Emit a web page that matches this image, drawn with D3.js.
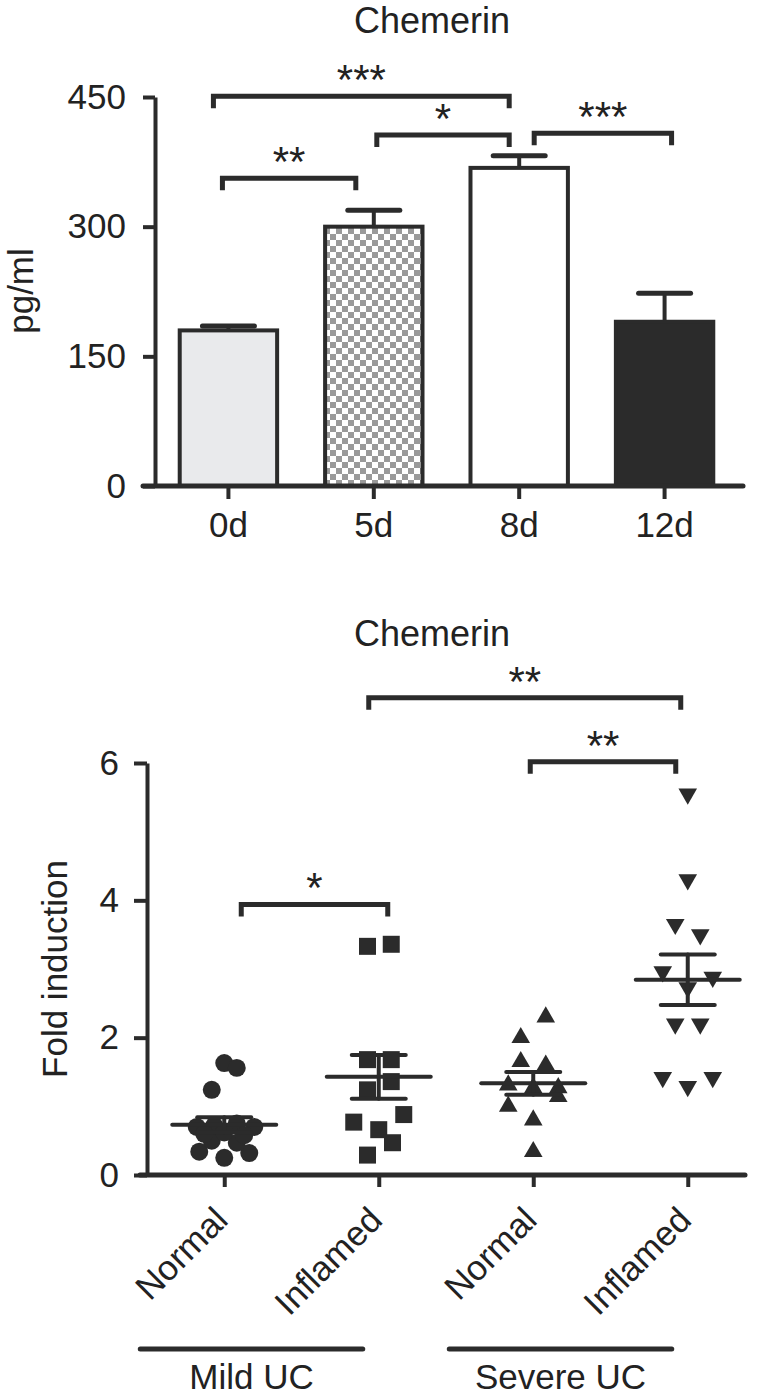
<!DOCTYPE html>
<html>
<head>
<meta charset="utf-8">
<script src="https://cdn.jsdelivr.net/npm/d3@7"></script>
<style>
body { margin: 0; background: #fff; }
text { font-family: "Liberation Sans", Arial, sans-serif; fill: #222; }
</style>
</head>
<body>
<svg id="chart" width="769" height="1395"></svg>
<script>
// top panel: chemerin (pg/ml) by day
const days = ['0d', '5d', '8d', '12d'];
const dayMean = [180, 300, 368, 190];
const daySem = [5, 19, 14, 33];
const dayTicks = [0, 150, 300, 450];

// bottom panel: fold induction, [value, jitter]
const groups = ['mildNormal', 'mildInflamed', 'severeNormal', 'severeInflamed'];
const groupLabels = ['Normal', 'Inflamed', 'Normal', 'Inflamed'];
const mildNormal = [[1.63, 0], [1.56, 0.5], [1.24, -0.5], [0.34, -1], [0.25, 0], [0.32, 1],
    [0.47, 0.5], [0.5, -0.5], [0.7, -1.1], [0.72, -0.4], [0.75, 0.5], [0.7, 1.2],
    [0.62, 0], [0.58, 0.8], [0.6, -0.8]];
const mildInflamed = [[3.33, -0.45], [3.36, 0.5], [1.68, -0.45], [1.68, 0.5], [1.24, -0.45],
    [1.36, 0.5], [0.77, -1], [0.88, 1], [0.66, 0], [0.47, 0.55], [0.29, -0.45]];
const severeNormal = [[2.3, 0.5], [2.0, -0.5], [1.65, -0.5], [1.6, 0.5], [1.31, -1], [1.27, 1],
    [1.27, 0], [1.0, -1], [0.8, 0], [0.34, 0], [1.14, 1]];
const severeInflamed = [[5.55, 0], [4.3, 0], [3.65, -0.5], [3.5, 0.5], [2.96, -1], [2.88, 1],
    [2.73, 0], [2.2, -0.5], [2.2, 0.5], [1.42, -1], [1.29, 0], [1.42, 1]];
const foldTicks = [0, 2, 4, 6];
const uc = ['Mild UC', 'Severe UC'];

// significance brackets
const dayBrackets = [
    {a: '0d', b: '8d', level: 451, label: '***'},
    {a: '0d', b: '5d', level: 356, label: '**'},
    {a: '5d', b: '8d', level: 406, label: '*'},
    {a: '8d', b: '12d', level: 408, label: '***'}
];
const foldBrackets = [
    {a: 'mildNormal', b: 'mildInflamed', level: 3.94, label: '*'},
    {a: 'severeNormal', b: 'severeInflamed', level: 6.02, label: '**'},
    {a: 'mildInflamed', b: 'severeInflamed', level: 6.95, label: '**'}
];

const ink = '#2b2b2b';
const fs = '35px';
const svg = d3.select('#chart');

// pattern for the checkered bar
const pat = svg.append('defs').append('pattern')
    .attr('id', 'checker').attr('patternUnits', 'userSpaceOnUse')
    .attr('width', 12).attr('height', 12);
pat.append('rect').attr('width', 12).attr('height', 12).attr('fill', '#fff');
pat.append('rect').attr('width', 6).attr('height', 6).attr('fill', '#9a9a9a');
pat.append('rect').attr('x', 6).attr('y', 6).attr('width', 6).attr('height', 6).attr('fill', '#9a9a9a');
const barFill = ['#e9eaec', 'url(#checker)', '#fff', ink];

function styleAxis(g) {
    g.selectAll('path, line').attr('stroke', ink).attr('stroke-width', 4);
    g.selectAll('text').style('font-size', fs).attr('fill', '#222');
}

function bracket(g, x0, x1, yy, label) {
    g.append('path')
        .attr('d', `M${x0},${yy + 12}V${yy}H${x1}V${yy + 12}`)
        .attr('fill', 'none').attr('stroke', ink).attr('stroke-width', 5);
    g.append('text').attr('x', (x0 + x1) / 2).attr('y', yy - 2)
        .attr('text-anchor', 'middle').style('font-size', '42px').text(label);
}

// ---------- top chart ----------
const x1 = d3.scaleBand().domain(days).range([155, 738]).paddingInner(0.33).paddingOuter(0.17);
const y1 = d3.scaleLinear().domain([0, 450]).range([486, 97]);
const topG = svg.append('g');

topG.append('text').attr('x', 432).attr('y', 33).attr('text-anchor', 'middle')
    .style('font-size', '36px').text('Chemerin');
topG.append('text').attr('transform', 'translate(33,291) rotate(-90)').attr('text-anchor', 'middle')
    .style('font-size', fs).text('pg/ml');

// error bars
days.forEach((d, i) => {
    const cx = x1(d) + x1.bandwidth() / 2;
    topG.append('line').attr('x1', cx).attr('x2', cx)
        .attr('y1', y1(dayMean[i])).attr('y2', y1(dayMean[i] + daySem[i]))
        .attr('stroke', ink).attr('stroke-width', 4);
    topG.append('line').attr('x1', cx - 26).attr('x2', cx + 26)
        .attr('y1', y1(dayMean[i] + daySem[i])).attr('y2', y1(dayMean[i] + daySem[i]))
        .attr('stroke', ink).attr('stroke-width', 5).attr('stroke-linecap', 'round');
});

topG.selectAll('rect.bar').data(days).join('rect').attr('class', 'bar')
    .attr('x', d => x1(d)).attr('width', x1.bandwidth())
    .attr('y', (d, i) => y1(dayMean[i])).attr('height', (d, i) => y1(0) - y1(dayMean[i]))
    .attr('fill', (d, i) => barFill[i]).attr('stroke', ink).attr('stroke-width', 4);

topG.append('g').attr('transform', 'translate(155,0)')
    .call(d3.axisLeft(y1).tickValues(dayTicks).tickSize(12).tickSizeOuter(0).tickPadding(17))
    .call(styleAxis);

const xa1 = topG.append('g').attr('transform', `translate(0,${y1(0)})`)
    .call(d3.axisBottom(x1).tickSize(13).tickPadding(13))
    .call(styleAxis);
xa1.select('.domain').remove();
topG.append('line').attr('x1', 143).attr('x2', 743).attr('y1', y1(0)).attr('y2', y1(0))
    .attr('stroke', ink).attr('stroke-width', 5).attr('stroke-linecap', 'round');

const dayCenter = d => x1(d) + x1.bandwidth() / 2;
const dayNudge = [[-15, -10], [-6, -18], [3, -10], [15, 7]];
dayBrackets.forEach((b, i) => bracket(topG, dayCenter(b.a) + dayNudge[i][0],
    dayCenter(b.b) + dayNudge[i][1], y1(b.level), b.label));

// ---------- bottom chart ----------
const x2 = d3.scalePoint().domain(groups).range([147, 765]).padding(0.5);
const y2 = d3.scaleLinear().domain([0, 6]).range([1175, 763]);
const jitter = d3.scaleLinear().domain([-1, 1]).range([-25, 25]);
const bot = svg.append('g');
const groupData = [mildNormal, mildInflamed, severeNormal, severeInflamed];

bot.append('text').attr('x', 432).attr('y', 646).attr('text-anchor', 'middle')
    .style('font-size', '36px').text('Chemerin');
bot.append('text').attr('transform', 'translate(67,969) rotate(-90)').attr('text-anchor', 'middle')
    .style('font-size', fs).text('Fold induction');

const shapes = [
    {type: d3.symbolCircle, size: 254, rot: 0},
    {type: d3.symbolSquare, size: 289, rot: 0},
    {type: d3.symbolTriangle, size: 150, rot: 0},
    {type: d3.symbolTriangle, size: 150, rot: 180}
];

groups.forEach((gk, i) => {
    const pts = groupData[i];
    const sym = d3.symbol().type(shapes[i].type).size(shapes[i].size);
    bot.append('g').selectAll('path').data(pts).join('path')
        .attr('d', sym)
        .attr('transform', d => `translate(${x2(gk) + jitter(d[1])},${y2(d[0])}) rotate(${shapes[i].rot})`)
        .attr('fill', ink);

    const vals = pts.map(d => d[0]);
    const m = d3.mean(vals);
    const se = d3.deviation(vals) / Math.sqrt(vals.length);
    const cx = x2(gk);
    const eg = bot.append('g').attr('stroke', ink).attr('stroke-width', 4).attr('stroke-linecap', 'round');
    eg.append('line').attr('x1', cx - 52).attr('x2', cx + 52).attr('y1', y2(m)).attr('y2', y2(m));
    eg.append('line').attr('x1', cx).attr('x2', cx).attr('y1', y2(m - se)).attr('y2', y2(m + se));
    [m - se, m + se].forEach(v => eg.append('line').attr('x1', cx - 27).attr('x2', cx + 27)
        .attr('y1', y2(v)).attr('y2', y2(v)));
});

bot.append('g').attr('transform', 'translate(147,0)')
    .call(d3.axisLeft(y2).tickValues(foldTicks).tickFormat(d3.format('d'))
        .tickSize(13).tickSizeOuter(0).tickPadding(15))
    .call(styleAxis);

const xa2 = bot.append('g').attr('transform', `translate(0,${y2(0)})`)
    .call(d3.axisBottom(x2).tickSize(12).tickFormat((d, i) => groupLabels[i]))
    .call(styleAxis);
xa2.select('.domain').remove();
xa2.selectAll('text')
    .attr('text-anchor', 'end').attr('dy', null).attr('y', null)
    .attr('transform', 'translate(5,47) rotate(-45)');
bot.append('line').attr('x1', 140).attr('x2', 745).attr('y1', y2(0)).attr('y2', y2(0))
    .attr('stroke', ink).attr('stroke-width', 5).attr('stroke-linecap', 'round');

// group underlines
uc.forEach((u, i) => {
    const a = x2(groups[i * 2]), b = x2(groups[i * 2 + 1]);
    bot.append('line').attr('x1', a - 84).attr('x2', b - 16).attr('y1', 1349).attr('y2', 1349)
        .attr('stroke', ink).attr('stroke-width', 5).attr('stroke-linecap', 'round');
    bot.append('text').attr('x', (a + b) / 2 - 50).attr('y', 1389).attr('text-anchor', 'middle')
        .style('font-size', fs).text(u);
});

const foldNudge = [[17, 9], [-3, -12], [-10, -7]];
foldBrackets.forEach((b, i) => bracket(bot, x2(b.a) + foldNudge[i][0],
    x2(b.b) + foldNudge[i][1], y2(b.level), b.label));
</script>
</body>
</html>
